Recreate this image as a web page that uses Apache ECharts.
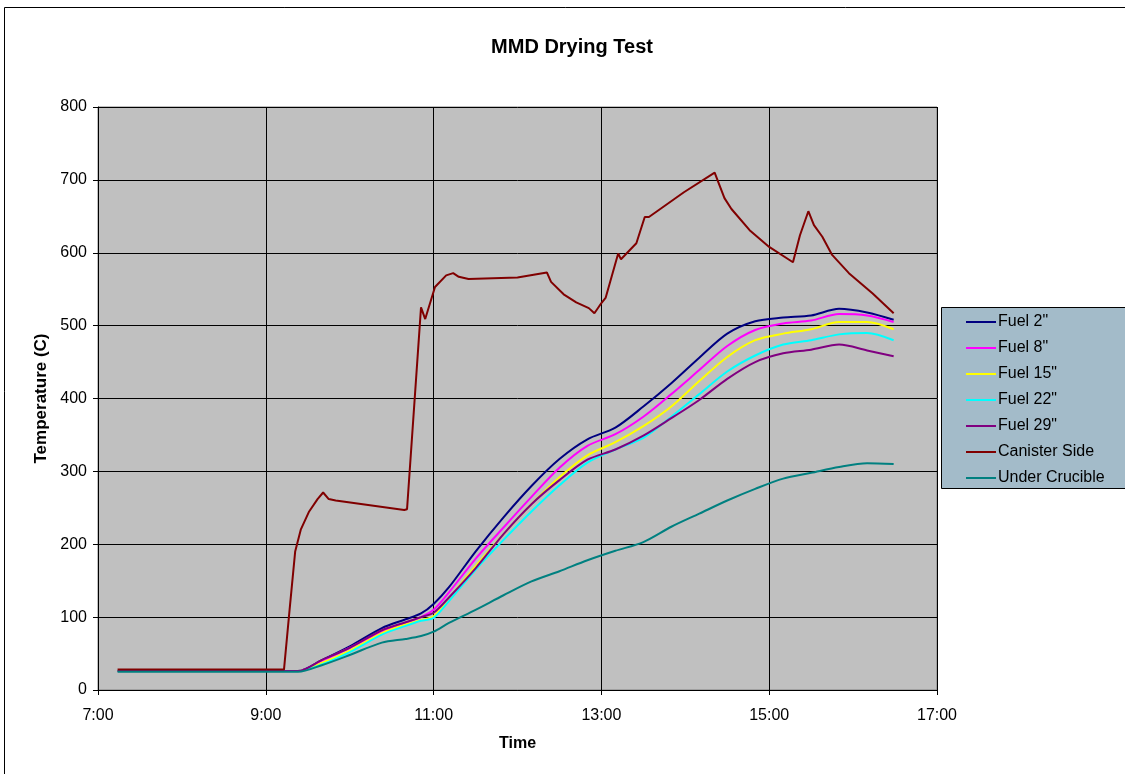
<!DOCTYPE html>
<html>
<head>
<meta charset="utf-8">
<title>MMD Drying Test</title>
<script src="https://cdn.jsdelivr.net/npm/echarts@6/dist/echarts.min.js"></script>
<style>
  html, body { margin: 0; padding: 0; background: #fff; }
  #chart { width: 1125px; height: 774px; }
</style>
</head>
<body>
<div id="chart"></div>
<script>
// sample times shared by the fuel / crucible readings
const times = ['7:14', '9:23', '9:40', '10:00', '10:23', '10:40', '10:51', '11:00', '11:11', '11:30',
  '11:50', '12:10', '12:30', '12:50', '13:10', '13:30', '13:50', '14:10', '14:30', '14:50',
  '15:10', '15:30', '15:50', '16:10', '16:29'];

const fuel2 = [26, 26, 41, 60, 85, 97, 105, 118, 141, 190, 237, 280, 317, 344, 360, 389, 421, 456, 489, 506, 511, 514, 523, 518, 508];
const fuel8 = [26, 26, 40, 58, 80, 92, 100, 110, 134, 180, 223, 265, 305, 335, 351, 375, 406, 439, 472, 494, 503, 507, 516, 514, 505];
const fuel15 = [26, 26, 37, 54, 78, 90, 96, 101, 126, 170, 214, 255, 292, 322, 340, 362, 389, 424, 457, 480, 489, 495, 505, 505, 495];
const fuel22 = [26, 26, 35, 52, 76, 88, 95, 99, 122, 165, 206, 245, 281, 312, 330, 346, 375, 406, 437, 459, 474, 480, 488, 490, 480];
const fuel29 = [26, 26, 41, 58, 82, 93, 100, 106, 127, 167, 214, 255, 288, 316, 330, 349, 373, 398, 427, 450, 462, 467, 474, 466, 458];
const underCrucible = [25, 25, 34, 48, 65, 70, 74, 80, 92, 110, 130, 149, 163, 178, 191, 203, 224, 242, 260, 276, 290, 298, 306, 311, 310];

// canister side has its own, denser readings
const canisterTimes = ['7:14', '9:13', '9:17', '9:21', '9:25', '9:31', '9:37', '9:41', '9:45', '9:50', '10:39', '10:41',
  '10:51', '10:54', '11:01', '11:09', '11:14', '11:18', '11:25', '12:00', '12:21', '12:24', '12:33', '12:42', '12:51',
  '12:55', '13:00', '13:03', '13:12', '13:14', '13:25', '13:31', '13:34', '13:59', '14:21', '14:24', '14:28', '14:33',
  '14:46', '15:00', '15:17', '15:22', '15:28', '15:32', '15:38', '15:45', '15:57', '16:14', '16:29'];
const canisterSide = [28, 28, 110, 190, 220, 245, 262, 271, 262, 260, 247, 248,
  525, 509, 553, 569, 572, 567, 564, 566, 573, 560, 543, 532, 524,
  517, 531, 538, 599, 591, 613, 649, 649, 683, 710, 695, 675, 660,
  631, 608, 587, 624, 657, 638, 622, 597, 572, 544, 517];

const toHours = t => {
  const [h, m] = t.split(':').map(Number);
  return h + m / 60;
};
const pairs = (ts, vals) => ts.map((t, i) => [toHours(t), vals[i]]);

const chart = echarts.init(document.getElementById('chart'));

const mkLine = (name, color, ts, vals, smooth) => ({
  name: name,
  type: 'line',
  data: pairs(ts, vals),
  showSymbol: false,
  smooth: smooth,
  lineStyle: { color: color, width: 2 },
  itemStyle: { color: color },
  z: 3
});

chart.setOption({
  animation: false,
  backgroundColor: '#fff',
  textStyle: { fontFamily: 'Liberation Sans, Arial, sans-serif' },
  title: {
    text: 'MMD Drying Test',
    left: 567,
    top: 32,
    textAlign: 'center',
    textStyle: { fontSize: 20, fontWeight: 'bold', color: '#000' }
  },
  graphic: [
    {
      type: 'rect',
      shape: { x: 4.5, y: 7.5, width: 1200, height: 800 },
      style: { fill: 'none', stroke: '#000', lineWidth: 1 },
      silent: true
    },
    {
      type: 'rect',
      shape: { x: 941.5, y: 307.5, width: 200, height: 181 },
      style: { fill: '#A3BBC9', stroke: '#000', lineWidth: 1 },
      silent: true,
      z: 0
    }
  ],
  legend: {
    orient: 'vertical',
    left: 961,
    top: 309,
    itemWidth: 30,
    itemHeight: 2,
    itemGap: 10,
    icon: 'rect',
    textStyle: { fontSize: 16, color: '#000', padding: [0, 0, 0, -3] },
    data: ['Fuel 2"', 'Fuel 8"', 'Fuel 15"', 'Fuel 22"', 'Fuel 29"', 'Canister Side', 'Under Crucible']
  },
  grid: {
    left: 98,
    right: 188,
    top: 107,
    bottom: 84,
    show: true,
    backgroundColor: '#C0C0C0',
    borderColor: '#808080',
    borderWidth: 1
  },
  xAxis: {
    type: 'value',
    min: 7,
    max: 17,
    interval: 2,
    name: 'Time',
    nameLocation: 'middle',
    nameGap: 46,
    nameTextStyle: { fontSize: 16, fontWeight: 'bold', color: '#000' },
    axisLine: { lineStyle: { color: '#000', width: 1 } },
    axisTick: { show: true, length: 5, lineStyle: { color: '#000' } },
    axisLabel: { fontSize: 16, color: '#000', margin: 18, formatter: v => v + ':00' },
    splitLine: { show: true, lineStyle: { color: '#000', width: 1 } }
  },
  yAxis: {
    type: 'value',
    min: 0,
    max: 800,
    interval: 100,
    name: 'Temperature (C)',
    nameLocation: 'middle',
    nameGap: 45,
    nameTextStyle: { fontSize: 17, fontWeight: 'bold', color: '#000' },
    axisLine: { show: true, lineStyle: { color: '#000', width: 1 } },
    axisTick: { show: true, length: 5, lineStyle: { color: '#000' } },
    axisLabel: { fontSize: 16, color: '#000', margin: 11 },
    splitLine: { show: true, lineStyle: { color: '#000', width: 1 } }
  },
  series: [
    mkLine('Fuel 2"', '#000080', times, fuel2, 0.3),
    mkLine('Fuel 8"', '#FF00FF', times, fuel8, 0.3),
    mkLine('Fuel 15"', '#FFFF00', times, fuel15, 0.3),
    mkLine('Fuel 22"', '#00FFFF', times, fuel22, 0.3),
    mkLine('Fuel 29"', '#800080', times, fuel29, 0.3),
    mkLine('Canister Side', '#800000', canisterTimes, canisterSide, false),
    mkLine('Under Crucible', '#008080', times, underCrucible, 0.3)
  ]
});
</script>
</body>
</html>
